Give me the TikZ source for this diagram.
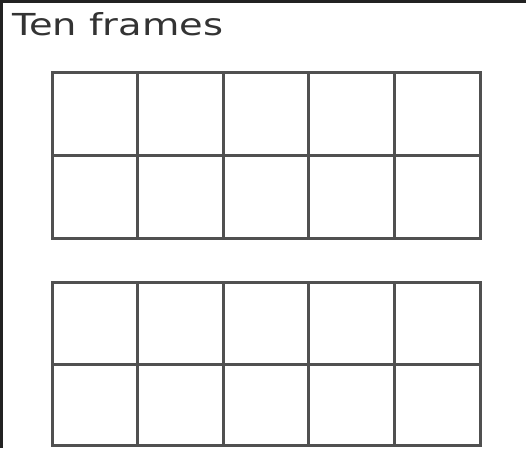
\documentclass[tikz,border=0pt]{standalone}
\usepackage{fontspec}
\usepackage{graphicx}
\setmainfont{DejaVu Sans}
\definecolor{frameline}{HTML}{505050}
\definecolor{borderline}{HTML}{222222}
\begin{document}
\begin{tikzpicture}[x=1pt,y=-1pt,
  gridline/.style={draw=frameline,line width=3pt},
  borderstyle/.style={draw=borderline,line width=3.5pt}]
\useasboundingbox (0,0) rectangle (526,448);
\fill[white] (0,0) rectangle (526,448);
\draw[borderstyle] (0,1.5) -- (526,1.5);
\draw[borderstyle] (1.5,0) -- (1.5,448);
\node[anchor=north west,inner sep=0pt,text=black!80] (title) at (12,12) {\resizebox{211pt}{23pt}{Ten frames}};
% two ten frames
\foreach \yt/\ym/\yb in {72/155/238,282/364/445}{
  \draw[gridline] (52,\yt) rectangle (480,\yb);
  \draw[gridline] (52,\ym) -- (480,\ym);
  \foreach \x in {137.6,223.2,308.8,394.4}{
    \draw[gridline] (\x,\yt) -- (\x,\yb);
  }
}
\end{tikzpicture}
\end{document}
